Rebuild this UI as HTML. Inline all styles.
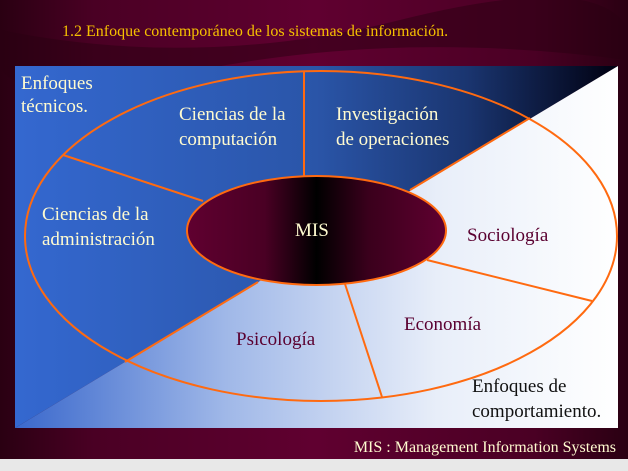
<!DOCTYPE html>
<html><head><style>
body{margin:0;width:628px;height:466px;overflow:hidden;background:#e8e8e8;}
svg, svg text{font-family:"Liberation Serif","DejaVu Serif","Times New Roman",Times,serif;}
</style></head><body>
<svg width="628" height="466" xmlns="http://www.w3.org/2000/svg" style="font-family:'Liberation Serif','DejaVu Serif',serif">
<defs>
<linearGradient id="bg" x1="0" y1="0" x2="1" y2="0"><stop offset="0" stop-color="#2a0012"/><stop offset="0.15" stop-color="#4a0024"/><stop offset="0.5" stop-color="#600030"/><stop offset="0.85" stop-color="#4a0024"/><stop offset="1" stop-color="#2a0012"/></linearGradient>
<linearGradient id="tl" x1="0" y1="0" x2="1" y2="0"><stop offset="0" stop-color="#3468d0"/><stop offset="0.5" stop-color="#2a55a8"/><stop offset="0.75" stop-color="#1a3570"/><stop offset="1" stop-color="#000010"/></linearGradient>
<linearGradient id="br" x1="0" y1="0" x2="1" y2="0"><stop offset="0" stop-color="#3a68cc"/><stop offset="0.35" stop-color="#a0b8e8"/><stop offset="0.7" stop-color="#e8eef9"/><stop offset="1" stop-color="#ffffff"/></linearGradient>
<linearGradient id="mis" x1="0" y1="0" x2="1" y2="0"><stop offset="0" stop-color="#600030"/><stop offset="0.3" stop-color="#4a0024"/><stop offset="0.5" stop-color="#000"/><stop offset="0.7" stop-color="#3a001c"/><stop offset="1" stop-color="#600030"/></linearGradient>
</defs>
<rect x="0" y="0" width="628" height="459" fill="url(#bg)"/>
<path d="M0 30 Q200 70 400 20 T628 30 L628 60 Q400 30 200 70 T0 60Z" fill="#2a0012" opacity="0.5"/>
<polygon points="15,66 618,66 15,428" fill="url(#tl)"/>
<polygon points="618,66 618,428 15,428" fill="url(#br)"/>
<g stroke="#ff6a10" stroke-width="2" fill="none">
<ellipse cx="321" cy="236" rx="296" ry="165"/>
<line x1="304" y1="71" x2="304" y2="176"/>
<line x1="63" y1="155" x2="203" y2="201"/>
<line x1="410" y1="190" x2="530" y2="118"/>
<line x1="258" y1="282" x2="125" y2="362"/>
<line x1="427" y1="260" x2="592" y2="301"/>
<line x1="345" y1="284" x2="382" y2="397"/>
</g>
<ellipse cx="316.5" cy="230.5" rx="129.5" ry="54.5" fill="url(#mis)" stroke="#ff6a10" stroke-width="2"/>
<g font-size="19" fill="#fffbd0">
<text x="21" y="89">Enfoques</text><text x="21" y="112">técnicos.</text>
<text x="179" y="120">Ciencias de la</text><text x="179" y="145">computación</text>
<text x="336" y="120">Investigación</text><text x="336" y="145">de operaciones</text>
<text x="42" y="220">Ciencias de la</text><text x="42" y="245">administración</text>
<text x="295" y="236">MIS</text>
</g>
<g font-size="19" fill="#5a0030">
<text x="467" y="241">Sociología</text>
<text x="404" y="330">Economía</text>
<text x="236" y="345">Psicología</text>
</g>
<g font-size="19" fill="#111">
<text x="472" y="392">Enfoques de</text><text x="472" y="417">comportamiento.</text>
</g>
<text x="62" y="36" font-size="16" fill="#f5c000">1.2 Enfoque contemporáneo de los sistemas de información.</text>
<text x="616" y="452" text-anchor="end" font-size="16" fill="#fffbd0">MIS : Management Information Systems</text>
</svg>
</body></html>
